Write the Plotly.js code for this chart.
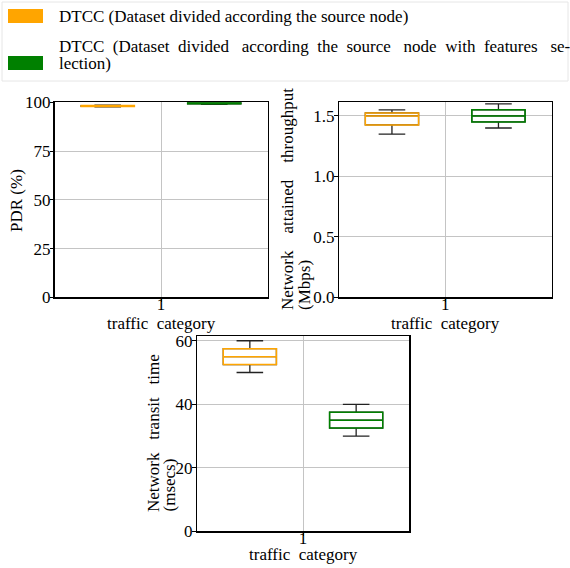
<!DOCTYPE html>
<html><head><meta charset="utf-8">
<script src="https://cdn.plot.ly/plotly-3.0.1.min.js"></script>
<style>
html,body{margin:0;padding:0;background:#fff}
#chart{width:570px;height:568px}
</style>
</head><body><div id="chart"></div>
<script>
// ---- data ----
const seriesNames = [
  'DTCC (Dataset divided according the source node)',
  'DTCC (Dataset divided according the source node with features selection)'
];
const trafficCategory = [1];
const categoryLabels = ['1'];
// box statistics: [lower whisker, q1, median, q3, upper whisker]
const pdrDivided = [97.7, 97.9, 98.1, 98.3, 98.5];
const pdrFeatures = [99.0, 99.2, 99.5, 99.8, 100.0];
const throughputDivided = [1.35, 1.425, 1.50, 1.525, 1.55];
const throughputFeatures = [1.40, 1.45, 1.50, 1.55, 1.60];
const transitDivided = [50, 52.5, 55, 57.5, 60];
const transitFeatures = [30, 32.5, 35, 37.5, 40];
const pdrTicks = [0, 25, 50, 75, 100];
const throughputTicks = [0, 0.5, 1.0, 1.5];
const throughputTickLabels = ['0.0', '0.5', '1.0', '1.5'];
const transitTicks = [0, 20, 40, 60];
const axisTitles = {
  pdr: 'PDR (%)',
  thr1: 'Network\u00a0\u00a0\u00a0\u00a0attained\u00a0\u00a0\u00a0\u00a0throughput',
  thr2: '(Mbps)',
  tr1: 'Network\u00a0\u00a0\u00a0transit\u00a0\u00a0\u00a0time',
  tr2: '(msecs)',
  x: 'traffic\u00a0\u00a0category'
};

// ---- helpers ----
const W = 570, H = 568;
const px = v => v / W;
const py = v => 1 - v / H;
const FONT = 'Liberation Serif';
const colors = ['#FFA500', '#008000'];
const offsets = [-0.25, 0.25];

function boxPair(stats, idx, xa, ya) {
  const x = trafficCategory.map(c => c + offsets[idx]);
  const common = {
    type: 'box', x: x, xaxis: xa, yaxis: ya, width: 0.25,
    q1: [stats[1]], median: [stats[2]], q3: [stats[3]],
    boxpoints: false, showlegend: false, hoverinfo: 'skip',
    name: seriesNames[idx]
  };
  const whisk = Object.assign({}, common, {
    lowerfence: [stats[0]], upperfence: [stats[4]],
    line: {color: '#222', width: 1.3}, fillcolor: 'rgba(0,0,0,0)', whiskerwidth: 0.5
  });
  const box = Object.assign({}, common, {
    lowerfence: [stats[1]], upperfence: [stats[3]],
    line: {color: colors[idx], width: 1.5}, fillcolor: 'rgba(0,0,0,0)', whiskerwidth: 0
  });
  return [whisk, box];
}

const traces = [].concat(
  boxPair(pdrDivided, 0, 'x', 'y'), boxPair(pdrFeatures, 1, 'x', 'y'),
  boxPair(throughputDivided, 0, 'x2', 'y2'), boxPair(throughputFeatures, 1, 'x2', 'y2'),
  boxPair(transitDivided, 0, 'x3', 'y3'), boxPair(transitFeatures, 1, 'x3', 'y3')
);

function axisBase() {
  return {
    showline: true, mirror: true, linecolor: '#000', linewidth: 1.2,
    ticks: 'outside', ticklen: 3.5, tickwidth: 1, tickcolor: '#000',
    showgrid: true, gridcolor: '#c4c4c4', gridwidth: 1, zeroline: false,
    tickfont: {family: FONT, size: 17, color: '#000'}, fixedrange: true
  };
}
function xAxis(dom, anchor) {
  return Object.assign(axisBase(), {
    domain: dom, anchor: anchor, range: [0.5, 1.5], ticklabelstandoff: -12,
    tickmode: 'array', tickvals: trafficCategory, ticktext: categoryLabels
  });
}
function yAxis(dom, anchor, range, vals, labels) {
  return Object.assign(axisBase(), {
    domain: dom, anchor: anchor, range: range, ticklabelstandoff: -4,
    tickmode: 'array', tickvals: vals, ticktext: labels || vals.map(String)
  });
}

const thrMax = throughputFeatures[4] + 0.05 * (throughputFeatures[4] - throughputDivided[0]);
const trMax = transitDivided[4] + 0.05 * (transitDivided[4] - transitFeatures[0]);

const ann = (text, x, y, opts) => Object.assign({
  text: text, x: x, y: y, xref: 'paper', yref: 'paper', showarrow: false,
  font: {family: FONT, size: 17, color: '#000'}, xanchor: 'center', yanchor: 'middle'
}, opts || {});

const legendWords = 'DTCC (Dataset divided according the source node with features se-'.split(' ');
const legendLine2 = legendWords.map((w, i) => i === 0 ? w : (i % 3 === 0 ? '\u00a0\u00a0\u00a0' : '\u00a0\u00a0') + w).join('');

const layout = {
  width: W, height: H, margin: {l: 0, r: 0, t: 0, b: 0},
  paper_bgcolor: '#fff', plot_bgcolor: '#fff', showlegend: false,
  font: {family: FONT, size: 17, color: '#000'},
  boxmode: 'overlay',
  xaxis: xAxis([px(54.5), px(267.5)], 'y'),
  yaxis: yAxis([py(297.3), py(102.3)], 'x', [0, 100], pdrTicks),
  xaxis2: xAxis([px(338.7), px(551.7)], 'y2'),
  yaxis2: yAxis([py(297.3), py(102.3)], 'x2', [0, thrMax], throughputTicks, throughputTickLabels),
  xaxis3: xAxis([px(196.7), px(409.3)], 'y3'),
  yaxis3: yAxis([py(531.3), py(336)], 'x3', [0, trMax], transitTicks),
  shapes: [
    {type: 'rect', xref: 'paper', yref: 'paper', x0: px(2), x1: px(568), y0: py(81), y1: py(2),
     line: {color: '#e6e6e6', width: 1}, fillcolor: 'rgba(255,255,255,0.8)', layer: 'below'},
    {type: 'rect', xref: 'paper', yref: 'paper', x0: px(8), x1: px(43), y0: py(23), y1: py(9),
     line: {width: 0}, fillcolor: colors[0]},
    {type: 'rect', xref: 'paper', yref: 'paper', x0: px(8), x1: px(43), y0: py(70), y1: py(56),
     line: {width: 0}, fillcolor: colors[1]}
  ],
  annotations: [
    ann(seriesNames[0], px(57), py(16.7), {xanchor: 'left'}),
    ann(legendLine2, px(57), py(46), {xanchor: 'left'}),
    ann('lection)', px(57), py(64), {xanchor: 'left'}),
    ann(axisTitles.pdr, px(16), py(201), {textangle: -90}),
    ann(axisTitles.thr1, px(287), py(312), {textangle: -90, yanchor: 'bottom'}),
    ann(axisTitles.thr2, px(304), py(312), {textangle: -90, yanchor: 'bottom'}),
    ann(axisTitles.tr1, px(153), py(514), {textangle: -90, yanchor: 'bottom'}),
    ann(axisTitles.tr2, px(169), py(514), {textangle: -90, yanchor: 'bottom'}),
    ann(axisTitles.x, px(161), py(323)),
    ann(axisTitles.x, px(445), py(323)),
    ann(axisTitles.x, px(303), py(554))
  ]
};

Plotly.newPlot('chart', traces, layout, {displayModeBar: false, staticPlot: true});
</script>
</body></html>
